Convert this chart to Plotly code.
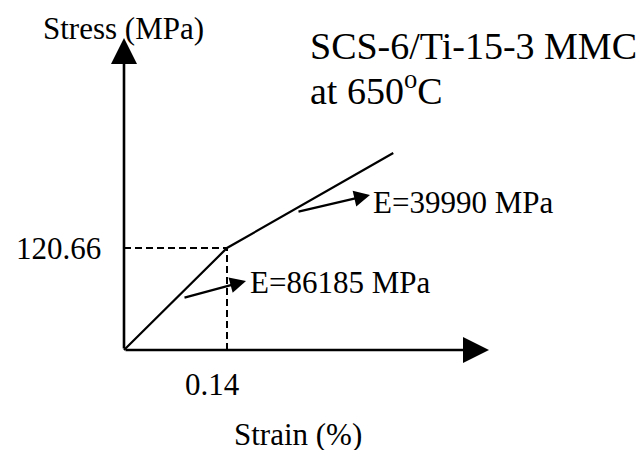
import plotly.graph_objects as go

# ---- data ----
strain = [0.0, 0.14, 0.366]          # %
stress = [0.0, 120.66, 233.0]        # MPa
knee_strain = 0.14
knee_stress = 120.66
x_label = "Strain (%)"
y_label = "Stress (MPa)"
title_lines = ["SCS-6/Ti-15-3 MMC", "at 650<sup>o</sup>C"]
modulus_labels = ["E=86185 MPa", "E=39990 MPa"]
tick_x = ["0.14"]
tick_y = ["120.66"]

W, H = 643, 450
X0, Y0 = 124, 350
SX = 103 / 0.14           # px per % strain
SY = 102 / 120.66         # px per MPa

def dx(px):
    return (px - X0) / SX

def dy(py):
    return (Y0 - py) / SY

FONT = "'Times New Roman', 'Liberation Serif', 'DejaVu Serif', serif"
FS = 31

fig = go.Figure()

fig.add_trace(go.Scatter(x=strain, y=stress, mode="lines",
                         line=dict(color="black", width=2.2),
                         hoverinfo="skip", showlegend=False))

fig.add_trace(go.Scatter(x=[0, knee_strain, knee_strain], y=[knee_stress, knee_stress, dy(354)],
                         mode="lines", line=dict(color="black", width=2, dash="7px,4px"),
                         hoverinfo="skip", showlegend=False))

ann = []
def arrow(x_tip, y_tip, x_tail, y_tail, size, width):
    ann.append(dict(x=x_tip, y=y_tip, ax=x_tail, ay=y_tail, xref="x", yref="y",
                    axref="x", ayref="y", text="", showarrow=True,
                    arrowhead=2, arrowsize=size, arrowwidth=width,
                    arrowcolor="black", standoff=0, startstandoff=0))

arrow(dx(124), dy(38), 0, 0, 2.0, 2.6)
arrow(dx(489), dy(350), 0, 0, 2.0, 2.6)
arrow(dx(246), dy(281), dx(183), dy(298), 1.45, 2.2)
arrow(dx(370), dy(195), dx(297), dy(212), 1.45, 2.2)

def text(t, px, py, xanchor="left", size=FS):
    ann.append(dict(x=dx(px), y=dy(py), xref="x", yref="y", text=t, showarrow=False,
                    xanchor=xanchor, yanchor="middle",
                    font=dict(family=FONT, size=size, color="black")))

text(y_label, 123, 28, "center")
text(x_label, 298, 434, "center")
text(tick_y[0], 103, 248, "right")
text(tick_x[0], 212, 384, "center")
text(modulus_labels[0], 248, 282, "left")
text(modulus_labels[1], 371, 202, "left")
text(title_lines[0], 308, 46, "left", 38)
text(title_lines[1], 308, 88, "left", 38)

fig.update_layout(
    width=W, height=H, margin=dict(l=0, r=0, t=0, b=0),
    paper_bgcolor="white", plot_bgcolor="white",
    font=dict(family=FONT),
    xaxis=dict(range=[dx(0), dx(W)], visible=False, fixedrange=True),
    yaxis=dict(range=[dy(H), dy(0)], visible=False, fixedrange=True),
    annotations=ann, showlegend=False,
)

fig.write_html("out.html", config={"displayModeBar": False},
               post_script="document.body.style.margin='0';document.body.style.padding='0';")
